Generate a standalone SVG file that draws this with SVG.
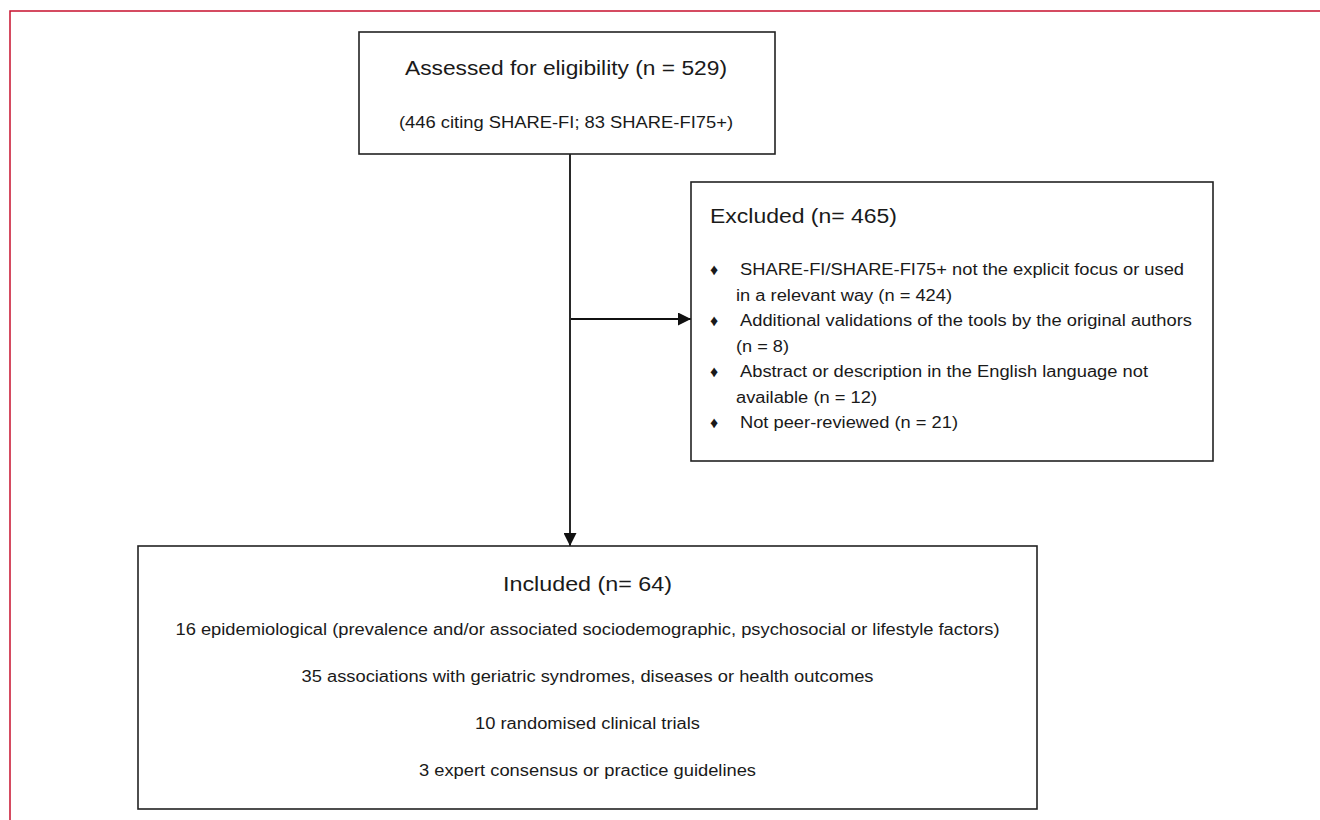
<svg xmlns="http://www.w3.org/2000/svg" width="1320" height="820" viewBox="0 0 1320 820">
<defs>
<style>
.box{fill:#fff;stroke:#222;stroke-width:1.6}
.t{font-family:"Liberation Sans",Arial,sans-serif;fill:#1a1a1a}
.h{font-size:20px}
.s{font-size:16px}
.ln{stroke:#111;stroke-width:1.8;fill:none}
</style>
<marker id="ah" viewBox="0 0 10 10" refX="10" refY="5" markerWidth="13" markerHeight="13" markerUnits="userSpaceOnUse" orient="auto">
<path d="M0,0 L10,5 L0,10 z" fill="#111"/>
</marker>
</defs>
<rect width="1320" height="820" fill="#fff"/>
<path d="M10,820 V11 H1320" fill="none" stroke="#c8102e" stroke-width="1.5"/>

<g id="connectors">
<line class="ln" x1="570" y1="154" x2="570" y2="546" marker-end="url(#ah)"/>
<line class="ln" x1="571" y1="319" x2="691" y2="319" marker-end="url(#ah)"/>
</g>

<g id="assessed">
<rect class="box" x="359" y="32" width="416" height="122"/>
<text class="t h" x="405" y="75" textLength="322" lengthAdjust="spacingAndGlyphs">Assessed for eligibility (n = 529)</text>
<text class="t s" x="399" y="128" textLength="334" lengthAdjust="spacingAndGlyphs">(446 citing SHARE-FI; 83 SHARE-FI75+)</text>
</g>

<g id="excluded">
<rect class="box" x="691" y="182" width="522" height="279"/>
<text class="t h" x="710" y="223" textLength="187" lengthAdjust="spacingAndGlyphs">Excluded (n= 465)</text>
<g class="t s">
<text x="710" y="275">♦</text>
<text x="740" y="275" textLength="444" lengthAdjust="spacingAndGlyphs">SHARE-FI/SHARE-FI75+ not the explicit focus or used</text>
<text x="736" y="300.5" textLength="216" lengthAdjust="spacingAndGlyphs">in a relevant way (n = 424)</text>
<text x="710" y="326">♦</text>
<text x="740" y="326" textLength="452" lengthAdjust="spacingAndGlyphs">Additional validations of the tools by the original authors</text>
<text x="736" y="351.5" textLength="53" lengthAdjust="spacingAndGlyphs">(n = 8)</text>
<text x="710" y="377">♦</text>
<text x="740" y="377" textLength="408" lengthAdjust="spacingAndGlyphs">Abstract or description in the English language not</text>
<text x="736" y="402.5" textLength="141" lengthAdjust="spacingAndGlyphs">available (n = 12)</text>
<text x="710" y="428">♦</text>
<text x="740" y="428" textLength="218" lengthAdjust="spacingAndGlyphs">Not peer-reviewed (n = 21)</text>
</g>
</g>

<g id="included">
<rect class="box" x="138" y="546" width="899" height="263"/>
<text class="t h" x="587.5" y="591" text-anchor="middle" textLength="169" lengthAdjust="spacingAndGlyphs">Included (n= 64)</text>
<g class="t s" text-anchor="middle">
<text x="587.5" y="635" textLength="824" lengthAdjust="spacingAndGlyphs">16 epidemiological (prevalence and/or associated sociodemographic, psychosocial or lifestyle factors)</text>
<text x="587.5" y="682" textLength="572" lengthAdjust="spacingAndGlyphs">35 associations with geriatric syndromes, diseases or health outcomes</text>
<text x="587.5" y="729" textLength="225" lengthAdjust="spacingAndGlyphs">10 randomised clinical trials</text>
<text x="587.5" y="776" textLength="337" lengthAdjust="spacingAndGlyphs">3 expert consensus or practice guidelines</text>
</g>
</g>
</svg>
